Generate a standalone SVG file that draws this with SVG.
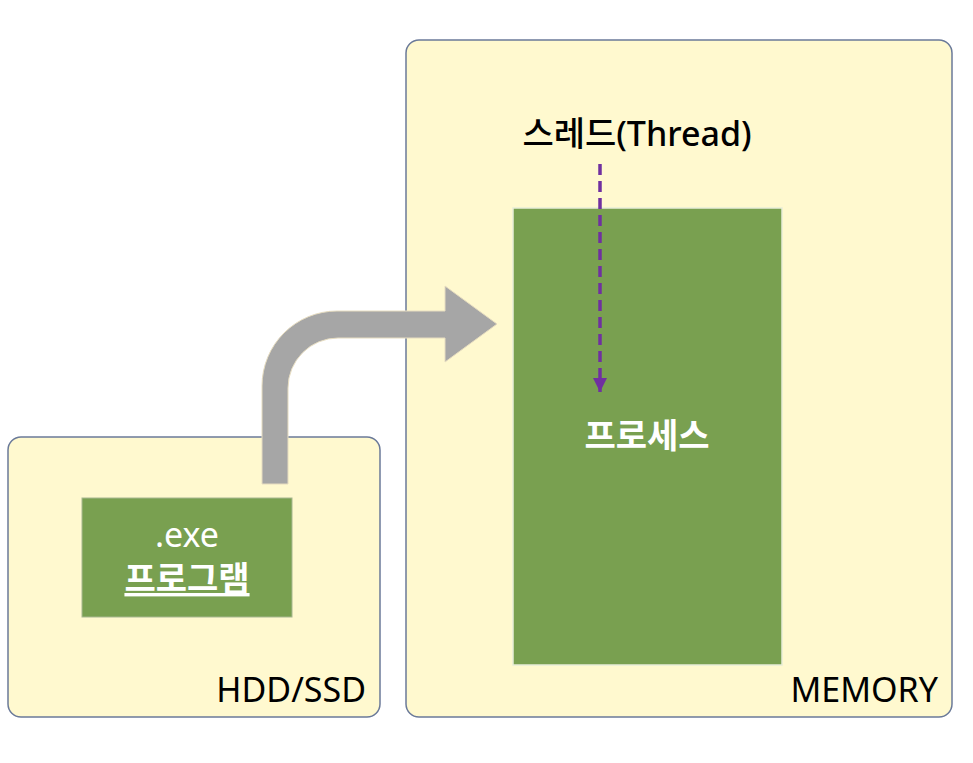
<svg xmlns="http://www.w3.org/2000/svg" width="973" height="763" viewBox="0 0 973 763">
<defs>
<style>
.box{fill:#fff9cf;stroke:#6b7a99;stroke-width:1.5}
.green{fill:#79a050}
.lbl{font-family:"Noto Sans","Noto Sans CJK KR",sans-serif;fill:#000;font-size:34px}
.wt{font-family:"Noto Sans","Noto Sans CJK KR",sans-serif;fill:#fff;font-size:34px;text-anchor:middle}
</style>
<marker id="ah" viewBox="0 0 10 10" refX="10" refY="5" markerWidth="14" markerHeight="14" markerUnits="userSpaceOnUse" orient="auto">
<path d="M0,0 L10,5 L0,10 Z" fill="#7030a0"/>
</marker>
</defs>
<rect width="973" height="763" fill="#fff"/>
<g id="hdd">
<rect class="box" x="8" y="437" width="372" height="280" rx="13"/>
<text class="lbl" x="366" y="702" text-anchor="end">HDD/SSD</text>
</g>
<g id="memory">
<rect class="box" x="406" y="40" width="546" height="677" rx="13"/>
<text class="lbl" x="938" y="702" text-anchor="end">MEMORY</text>
</g>
<g id="program">
<rect class="green" x="82" y="498" width="210" height="119" stroke="#a8b890" stroke-width="1"/>
<text class="wt" x="187" y="547" font-size="32">.exe</text>
<text class="wt" x="187" y="591" font-weight="bold" text-decoration="underline">프로그램</text>
</g>
<g id="process">
<rect class="green" x="513" y="208" width="269" height="457" stroke="#e8edd8" stroke-width="1.5"/>
<text class="wt" x="647" y="448" font-weight="bold">프로세스</text>
</g>
<g id="thread">
<text class="lbl" x="637" y="146" text-anchor="middle" font-weight="500">스레드(Thread)</text>
</g>
<g id="connectors">
<path d="M262,484 L262,386 A75,75 0 0 1 337,311 L445,311 L445,286 L497,324 L445,362 L445,338 L338,338 A50,50 0 0 0 288,388 L288,484 Z" fill="#a6a6a6" stroke="#e6dcc0" stroke-width="1"/>
<line x1="600" y1="164" x2="600" y2="392" stroke="#7030a0" stroke-width="3.5" stroke-dasharray="11,6" marker-end="url(#ah)"/>
</g>
</svg>
